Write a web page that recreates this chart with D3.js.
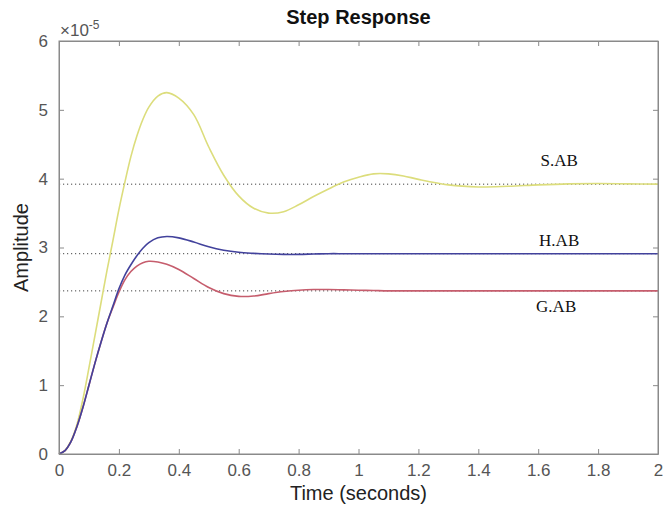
<!DOCTYPE html>
<html>
<head>
<meta charset="utf-8">
<script src="https://cdn.jsdelivr.net/npm/d3@7"></script>
<style>
  body { margin: 0; background: #fff; }
  svg { display: block; }
</style>
</head>
<body>
<div id="chart"></div>
<script>
// time samples (seconds)
const time = [0, 0.02, 0.04, 0.06, 0.08, 0.10, 0.12, 0.14, 0.16, 0.18, 0.20, 0.22, 0.24, 0.26, 0.28, 0.30,
    0.33, 0.36, 0.40, 0.45, 0.50, 0.55, 0.60, 0.65, 0.70, 0.75, 0.80, 0.85, 0.90, 0.95, 1.00,
    1.05, 1.10, 1.15, 1.20, 1.30, 1.40, 1.50, 1.60, 1.70, 1.80, 1.90, 2.00];

// amplitudes in units of 1e-5
const sAB = [0, 0.05, 0.19, 0.43, 0.80, 1.25, 1.72, 2.19, 2.66, 3.10, 3.55, 3.95, 4.32, 4.62, 4.86, 5.04,
    5.20, 5.25, 5.17, 4.93, 4.46, 4.05, 3.75, 3.57, 3.50, 3.52, 3.62, 3.74, 3.85, 3.95, 4.02,
    4.07, 4.07, 4.04, 3.99, 3.91, 3.88, 3.89, 3.91, 3.925, 3.93, 3.925, 3.92];
const hAB = [0, 0.05, 0.18, 0.40, 0.68, 1.00, 1.32, 1.62, 1.90, 2.15, 2.40, 2.60, 2.75, 2.88, 2.99, 3.07,
    3.14, 3.16, 3.14, 3.08, 3.01, 2.96, 2.93, 2.915, 2.905, 2.90, 2.90, 2.905, 2.91, 2.91, 2.91,
    2.91, 2.91, 2.91, 2.91, 2.91, 2.91, 2.91, 2.91, 2.91, 2.91, 2.91, 2.91];
const gAB = [0, 0.05, 0.18, 0.40, 0.68, 1.00, 1.32, 1.62, 1.90, 2.13, 2.35, 2.53, 2.65, 2.73, 2.78, 2.80,
    2.79, 2.755, 2.68, 2.55, 2.42, 2.33, 2.29, 2.295, 2.33, 2.36, 2.38, 2.39, 2.39, 2.385, 2.38,
    2.375, 2.37, 2.37, 2.37, 2.37, 2.37, 2.37, 2.37, 2.37, 2.37, 2.37, 2.37];

const seriesNames = ["S.AB", "G.AB", "H.AB"];
const finalValues = [3.92, 2.37, 2.91];
const xTicks = [0, 0.2, 0.4, 0.6, 0.8, 1, 1.2, 1.4, 1.6, 1.8, 2];
const yTicks = [0, 1, 2, 3, 4, 5, 6];

const width = 663;
const height = 507;
const margin = { top: 41, right: 5, bottom: 53, left: 59 };

const svg = d3.select("#chart")
    .append("svg")
    .attr("width", width)
    .attr("height", height);

const x = d3.scaleLinear().domain([0, 2]).range([margin.left, width - margin.right]);
const y = d3.scaleLinear().domain([0, 6]).range([height - margin.bottom, margin.top]);

const axisColor = "#8a8a8a";
const labelColor = "#555";

// steady state dotted lines
svg.append("g")
    .selectAll("line")
    .data(finalValues)
    .enter().append("line")
    .attr("x1", x(0))
    .attr("x2", x(2))
    .attr("y1", d => y(d))
    .attr("y2", d => y(d))
    .attr("stroke", "#444")
    .attr("stroke-width", 1)
    .attr("stroke-dasharray", "1.2,2.8");

const line = d3.line()
    .x((d, i) => x(time[i]))
    .y(d => y(d))
    .curve(d3.curveCatmullRom.alpha(0.5));

const series = [
    { values: sAB, color: "#dcdd7c" },
    { values: gAB, color: "#c65d6d" },
    { values: hAB, color: "#42429c" }
];

svg.append("g")
    .selectAll("path")
    .data(series)
    .enter().append("path")
    .attr("d", d => line(d.values))
    .attr("fill", "none")
    .attr("stroke", d => d.color)
    .attr("stroke-width", 1.6);

// axes box with inward ticks on all sides
const plotW = width - margin.right - margin.left;
const plotH = height - margin.bottom - margin.top;

svg.append("g")
    .attr("transform", `translate(0,${height - margin.bottom})`)
    .call(d3.axisBottom(x).tickValues(xTicks).tickSizeInner(-5).tickSizeOuter(0).tickPadding(10)
        .tickFormat(d3.format("")));

svg.append("g")
    .attr("transform", `translate(0,${margin.top})`)
    .call(d3.axisTop(x).tickValues(xTicks).tickSizeInner(-5).tickSizeOuter(0).tickFormat(""));

svg.append("g")
    .attr("transform", `translate(${margin.left},0)`)
    .call(d3.axisLeft(y).tickValues(yTicks).tickSizeInner(-5).tickSizeOuter(0).tickPadding(11)
        .tickFormat(d3.format("d")));

svg.append("g")
    .attr("transform", `translate(${width - margin.right},0)`)
    .call(d3.axisRight(y).tickValues(yTicks).tickSizeInner(-5).tickSizeOuter(0).tickFormat(""));

svg.selectAll(".domain, .tick line").attr("stroke", axisColor);
svg.selectAll(".tick text")
    .attr("fill", labelColor)
    .style("font-family", "'Liberation Sans', Arial, sans-serif")
    .style("font-size", "17px");

svg.append("rect")
    .attr("x", margin.left)
    .attr("y", margin.top)
    .attr("width", plotW)
    .attr("height", plotH)
    .attr("fill", "none")
    .attr("stroke", axisColor);

// exponent marker
const expo = svg.append("text")
    .attr("x", margin.left + 1)
    .attr("y", margin.top - 5)
    .attr("fill", labelColor)
    .style("font-family", "'Liberation Sans', Arial, sans-serif")
    .style("font-size", "17px");
expo.append("tspan").text("\u00d710");
expo.append("tspan").attr("dy", -7).style("font-size", "12px").text("-5");

// title and axis labels
svg.append("text")
    .attr("x", margin.left + plotW / 2)
    .attr("y", 24)
    .attr("text-anchor", "middle")
    .attr("fill", "#111")
    .style("font-family", "'Liberation Sans', Arial, sans-serif")
    .style("font-size", "20px")
    .style("font-weight", "bold")
    .text("Step Response");

svg.append("text")
    .attr("x", margin.left + plotW / 2)
    .attr("y", 500)
    .attr("text-anchor", "middle")
    .attr("fill", "#222")
    .style("font-family", "'Liberation Sans', Arial, sans-serif")
    .style("font-size", "20px")
    .text("Time (seconds)");

svg.append("text")
    .attr("transform", `translate(28,${margin.top + plotH / 2}) rotate(-90)`)
    .attr("text-anchor", "middle")
    .attr("fill", "#222")
    .style("font-family", "'Liberation Sans', Arial, sans-serif")
    .style("font-size", "20px")
    .text("Amplitude");

// series labels
const labelPos = [
    { t: 1.67, v: 3.92, dy: -18 },
    { t: 1.66, v: 2.37, dy: 21 },
    { t: 1.67, v: 2.91, dy: -8 }
];

svg.append("g")
    .selectAll("text")
    .data(seriesNames)
    .enter().append("text")
    .attr("x", (d, i) => x(labelPos[i].t))
    .attr("y", (d, i) => y(labelPos[i].v) + labelPos[i].dy)
    .attr("text-anchor", "middle")
    .attr("fill", "#111")
    .style("font-family", "'Liberation Serif', 'Times New Roman', serif")
    .style("font-size", "17px")
    .text(d => d);
</script>
</body>
</html>
